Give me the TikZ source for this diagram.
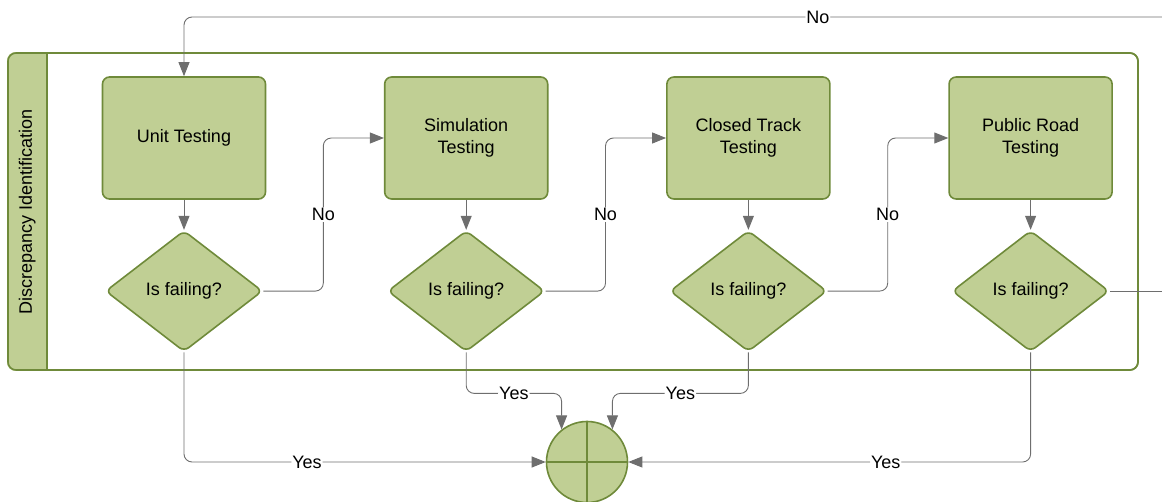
\documentclass[tikz,border=0pt]{standalone}
\usepackage{fontspec}
\setmainfont{Liberation Sans}
\usepackage{xcolor}
\usepackage{tikz}
\usetikzlibrary{positioning, arrows.meta, shapes.geometric, calc}
\definecolor{leaf}{HTML}{C0CF94}
\definecolor{moss}{HTML}{6F8A3A}
\definecolor{wire}{HTML}{6E6E6E}
\newcommand{\lanefont}{\fontsize{18}{22}\selectfont}
\tikzset{
  stage/.style ={draw=moss, fill=leaf, line width=1.6pt, rounded corners=7pt,
                 minimum width=163pt, minimum height=122pt, align=center,
                 font=\lanefont},
  check/.style ={diamond, draw=moss, fill=leaf, line width=1.6pt, rounded corners=6pt,
                 minimum width=157pt, minimum height=121pt, inner sep=0pt,
                 font=\lanefont},
  merge/.style ={circle, draw=moss, fill=leaf, line width=1.6pt, minimum size=81pt},
  pool/.style  ={draw=moss, line width=1.6pt, rounded corners=8pt},
  link/.style  ={draw=wire, line width=0.9pt, rounded corners=8pt},
  flow/.style  ={link, -{Triangle[length=14pt, width=11pt]}, color=wire},
  lbl/.style   ={fill=white, inner sep=1pt, text=black, font=\lanefont},
}

\begin{document}
\begin{tikzpicture}[x=1pt, y=-1pt]
  \useasboundingbox (0,0) rectangle (1162,502);
  % swimlane with its title strip
  \node[pool, minimum width=1130pt, minimum height=317pt] (pool) at (573,211.5) {};
  \begin{scope}
    \clip[rounded corners=8pt] (pool.north west) rectangle (pool.south east);
    \fill[leaf] (pool.north west) rectangle ($(pool.south west)+(40,0)$);
  \end{scope}
  \node[pool, minimum width=1130pt, minimum height=317pt] at (pool) {};
  \draw[moss, line width=1.6pt] ($(pool.north west)+(40,0)$) -- ($(pool.south west)+(40,0)$);
  \node[rotate=90, font=\lanefont] (lane) at ($(pool.west)+(20,0)$) {Discrepancy Identification};

  % test stages
  \node[stage] at (184,138) (unit) {Unit Testing};
  \node[stage, right=117.6pt of unit] (sim) {Simulation\\Testing};
  \node[stage, right=117.6pt of sim] (track) {Closed Track\\Testing};
  \node[stage, right=117.6pt of track] (road) {Public Road\\Testing};
  \foreach \s/\q in {unit/q1, sim/q2, track/q3, road/q4} {
    \node[check, below=30pt of \s] (\q) {Is failing?};
    \draw[flow] (\s) -- (\q);
  }
  \node[merge] at (587,462) (join) {};
  \draw[moss, line width=1.6pt] (join.north) -- (join.south) (join.west) -- (join.east);

  % no -> next stage
  \draw[flow] (q1.east) -- ++(60,0) |- node[lbl, pos=0.25]{No} (sim.west);
  \draw[flow] (q2.east) -- ++(60,0) |- node[lbl, pos=0.25]{No} (track.west);
  \draw[flow] (q3.east) -- ++(60,0) |- node[lbl, pos=0.25]{No} (road.west);
  \coordinate (outR) at (1162,0);
  \coordinate (outT) at (1162,17);
  \draw[link] (q4.east) -- (q4.east -| outR);
  \draw[flow] (outT) -| node[lbl, pos=0.176]{No} (unit.north);

  % yes -> join
  \draw[flow] (q1.south) |- node[lbl, pos=0.67]{Yes} (join.west);
  \draw[flow] (q2.south) -- ++(0,41) -| node[lbl, pos=0.25]{Yes} (join.128);
  \draw[flow] (q3.south) -- ++(0,41) -| node[lbl, pos=0.25]{Yes} (join.52);
  \draw[flow] (q4.south) |- node[lbl, pos=0.68]{Yes} (join.east);
\end{tikzpicture}
\end{document}
